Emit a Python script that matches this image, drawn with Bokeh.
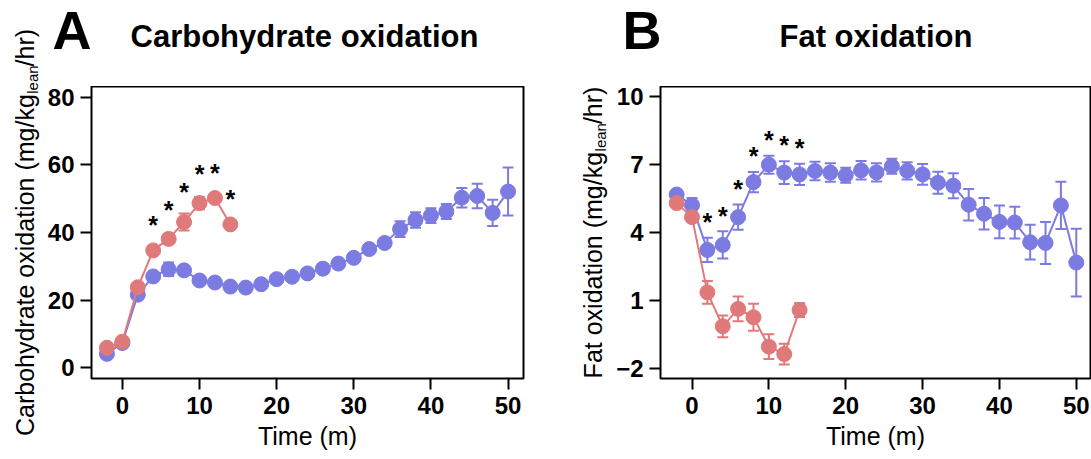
from bokeh.plotting import figure
from bokeh.models import ColumnDataSource, Whisker, TeeHead, Label, Range1d, FixedTicker
from bokeh.layouts import row, column
from bokeh.embed import file_html
from bokeh.resources import INLINE
from bokeh.core.properties import value

# ---------------- data ----------------
time_blue = [-2, 0, 2, 4, 6, 8, 10, 12, 14, 16, 18, 20, 22, 24, 26, 28, 30,
             32, 34, 36, 38, 40, 42, 44, 46, 48, 50]
time_red = [-2, 0, 2, 4, 6, 8, 10, 12, 14]

carb_blue = [4.1, 7.3, 21.6, 27.0, 29.1, 28.8, 25.8, 25.2, 24.0, 23.7, 24.7, 26.2,
             26.9, 27.9, 29.3, 30.8, 32.5, 35.1, 36.9, 41.0, 43.7, 45.0, 46.2,
             50.3, 50.8, 45.8, 52.1]
carb_blue_err = [0.8, 0.8, 0.8, 1.0, 2.0, 1.2, 0.8, 0.8, 0.6, 0.6, 0.6, 0.7, 0.7,
                 0.8, 0.8, 0.8, 0.9, 1.0, 1.0, 2.3, 2.3, 2.2, 2.2, 2.9, 3.6, 3.9, 7.1]
carb_red = [5.9, 7.7, 23.8, 34.7, 38.1, 43.1, 48.7, 50.2, 42.4]
carb_red_err = [0.6, 0.6, 0.8, 1.0, 1.5, 2.5, 1.8, 1.0, 0.8]
carb_star_time = [4, 6, 8, 10, 12, 14]
carb_star_y = [42.9, 47.2, 52.7, 57.8, 58.1, 50.6]

fat_blue = [5.68, 5.21, 3.23, 3.45, 4.68, 6.23, 7.0, 6.65, 6.57, 6.72, 6.65, 6.53,
            6.75, 6.66, 6.93, 6.73, 6.57, 6.20, 6.07, 5.23, 4.83, 4.47, 4.44, 3.57,
            3.54, 5.20, 2.67]
fat_blue_err = [0.12, 0.32, 0.54, 0.6, 0.56, 0.45, 0.4, 0.5, 0.47, 0.41, 0.41, 0.33,
                0.41, 0.4, 0.33, 0.38, 0.46, 0.49, 0.55, 0.7, 0.7, 0.72, 0.7, 0.77,
                0.93, 1.05, 1.5]
fat_red = [5.30, 4.68, 1.35, -0.15, 0.62, 0.25, -1.05, -1.38, 0.57]
fat_red_err = [0.1, 0.12, 0.5, 0.48, 0.55, 0.6, 0.55, 0.46, 0.31]
fat_star_time = [2, 4, 6, 8, 10, 12, 14]
fat_star_y = [4.56, 4.83, 6.0, 7.46, 8.2, 7.96, 7.81]

carb_ticks = [0, 20, 40, 60, 80]
fat_ticks = [-2, 1, 4, 7, 10]
time_ticks = [0, 10, 20, 30, 40, 50]

BLUE = "#7b7be2"
RED = "#e07a7a"
FONT = "Liberation Sans"

TOP_H = 86
FRAME_H = 292
BOTTOM_B = 78
TOTAL_H = TOP_H + FRAME_H + BOTTOM_B
NBSP4 = "\u00a0" * 4
SHIFT = 0.36   # baseline correction, in em


def make_panel(x_rng, y_rng, yticks, mb_left, fw, mb_right):
    p = figure(frame_width=fw, frame_height=FRAME_H,
               x_range=Range1d(*x_rng), y_range=Range1d(*y_rng),
               output_backend="svg", toolbar_location=None,
               min_border_left=mb_left, min_border_right=mb_right,
               min_border_top=0, min_border_bottom=BOTTOM_B)
    p.grid.visible = False
    p.outline_line_color = "black"
    p.outline_line_width = 2
    p.outline_line_alpha = 1
    p.background_fill_color = "white"
    p.border_fill_color = "white"
    for ax in (p.xaxis[0], p.yaxis[0]):
        ax.axis_line_color = None
        ax.major_tick_in = 0
        ax.major_tick_out = 11
        ax.major_tick_line_width = 2
        ax.major_tick_line_color = "black"
        ax.minor_tick_line_color = None
        ax.major_label_text_font = FONT
        ax.major_label_text_font_style = "bold"
        ax.major_label_text_font_size = "24px"
        ax.major_label_text_color = "black"
    p.xaxis.ticker = FixedTicker(ticks=time_ticks)
    p.yaxis.ticker = FixedTicker(ticks=yticks)
    p.xaxis.major_label_standoff = 7
    p.yaxis.major_label_standoff = 6
    p.xaxis.axis_label = "Time (m)"
    p.xaxis.axis_label_text_font = FONT
    p.xaxis.axis_label_text_font_style = "normal"
    p.xaxis.axis_label_text_font_size = "25px"
    p.xaxis.axis_label_text_color = "black"
    p.xaxis.axis_label_standoff = 5
    return p


def text_fig(w, h):
    f = figure(width=w, height=h, x_range=Range1d(0, 1), y_range=Range1d(0, 1),
               output_backend="svg", toolbar_location=None,
               x_axis_location=None, y_axis_location=None,
               min_border_left=0, min_border_right=0,
               min_border_top=0, min_border_bottom=0)
    f.grid.visible = False
    f.outline_line_color = None
    f.background_fill_color = "white"
    f.border_fill_color = "white"
    return f


def add_series(p, t, v, e, color):
    src = ColumnDataSource(dict(t=t, v=v,
                                lo=[a - b for a, b in zip(v, e)],
                                hi=[a + b for a, b in zip(v, e)]))
    p.add_layout(Whisker(source=src, base="t", upper="hi", lower="lo",
                         line_color=color, line_width=2,
                         upper_head=TeeHead(size=11, line_color=color, line_width=2),
                         lower_head=TeeHead(size=11, line_color=color, line_width=2)))
    p.line("t", "v", source=src, line_color=color, line_width=2)
    p.scatter("t", "v", source=src, size=15, fill_color=color, line_color=color)


def add_stars(p, t, y):
    p.text(x=t, y=y, text=["*"] * len(t), text_font=value(FONT),
           text_font_style="bold", text_font_size="25px", text_color="black",
           text_align="center", text_baseline="alphabetic", y_offset=2)


def title_fig(w, letter, letter_x, title, title_x):
    f = text_fig(w, TOP_H)
    f.add_layout(Label(x=letter_x, y=49 - SHIFT * 54, x_units="canvas", y_units="canvas",
                       text=letter, text_font=FONT, text_font_style="bold",
                       text_font_size="54px", text_color="black",
                       text_baseline="alphabetic"), "left")
    f.add_layout(Label(x=title_x, y=47 - SHIFT * 31, x_units="canvas", y_units="canvas",
                       text=title, text_font=FONT, text_font_style="bold",
                       text_font_size="31px", text_color="black",
                       text_baseline="alphabetic"), "above")
    return f


def ylabel_fig(w, base_x, main_text, main_em):
    f = text_fig(w, TOTAL_H)
    main_w = main_em * 25
    sub_w = 4 * 0.278 * 25
    end_w = 1.5 * 25
    total = main_w + sub_w + end_w
    centre = TOP_H + FRAME_H / 2
    start = centre + total / 2
    common = dict(x_units="canvas", y_units="canvas", angle=1.5707963,
                  text_font=FONT, text_color="black", text_baseline="alphabetic")
    f.add_layout(Label(x=base_x - SHIFT * 25, y=start, text=main_text + NBSP4 + "/hr)",
                       text_font_size="25px", **common), "left")
    f.add_layout(Label(x=base_x + 4 - SHIFT * 15, y=start - main_w - 0.5, text="lean",
                       text_font_size="15px", **common), "above")
    return f


# ---------------- panel A ----------------
pA = make_panel((-4, 52), (-3.2, 83.2), carb_ticks, 49, 432, 40)
add_series(pA, time_blue, carb_blue, carb_blue_err, BLUE)
add_series(pA, time_red, carb_red, carb_red_err, RED)
add_stars(pA, carb_star_time, carb_star_y)
tA = title_fig(521, "A", 10, "Carbohydrate oxidation", 88)
yA = ylabel_fig(42, 33, "Carbohydrate oxidation (mg/kg", 13.672)

# ---------------- panel B ----------------
pB = make_panel((-4.1, 51.85), (-2.46, 10.46), fat_ticks, 51, 430, 1)
add_series(pB, time_blue, fat_blue, fat_blue_err, BLUE)
add_series(pB, time_red, fat_red, fat_red_err, RED)
add_stars(pB, fat_star_time, fat_star_y)
tB = title_fig(482, "B", 13, "Fat oxidation", 170)
yB = ylabel_fig(46, 38, "Fat oxidation (mg/kg", 9.059)

layout = row(yA, column(tA, pA), yB, column(tB, pB))
open("out.html", "w").write(file_html(layout, INLINE))
